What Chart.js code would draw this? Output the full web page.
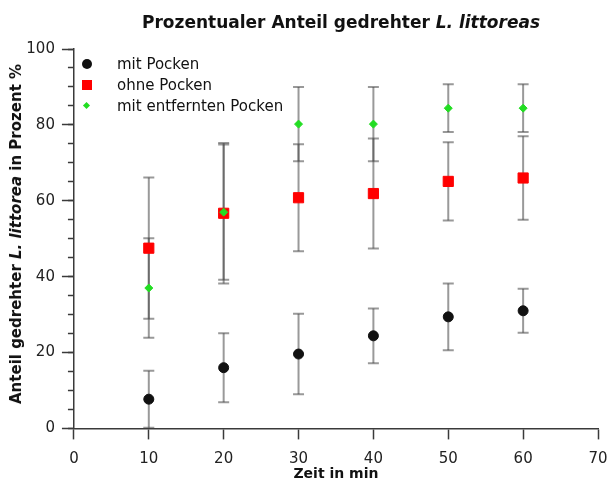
<!DOCTYPE html>
<html>
<head>
<meta charset="utf-8">
<script src="https://cdn.jsdelivr.net/npm/chart.js@4/dist/chart.umd.min.js"></script>
<style>
  body { margin: 0; background: #fff; font-family: "DejaVu Sans", sans-serif; color: #111; }
  #wrap { position: relative; width: 607px; height: 483px; }
  #title { position: absolute; left: 341px; top: 12px; transform: translateX(-50%);
           font-weight: bold; font-size: 17px; white-space: nowrap; }
  #ytitle { position: absolute; left: 16px; top: 234px; transform: translate(-50%, -50%) rotate(-90deg);
            font-weight: bold; font-size: 15px; white-space: nowrap; }
  .row { position: absolute; left: 0; height: 20px; line-height: 20px; font-size: 15px; white-space: nowrap; }
  .row span.txt { position: absolute; left: 117px; top: 0; }
  .mk { position: absolute; }
</style>
</head>
<body>
<div id="wrap">
  <canvas id="chart"></canvas>
  <div id="title">Prozentualer Anteil gedrehter <i>L. littoreas</i></div>
  <div id="ytitle">Anteil gedrehter <i>L. littorea</i> in Prozent %</div>
  <div id="legend"></div>
</div>
<script>
// Zeitpunkte (min)
let zeit = [10, 20, 30, 40, 50, 60];

// Anteil gedrehter Schnecken in %, mit Standardabweichung
let mitPocken = [7.7, 16.0, 19.6, 24.4, 29.4, 31.0];
let mitPockenFehler = [7.5, 9.1, 10.6, 7.2, 8.8, 5.8];
let ohnePocken = [47.5, 56.7, 60.8, 61.9, 65.1, 66.0];
let ohnePockenFehler = [18.6, 18.5, 14.1, 14.5, 10.3, 11.0];
let entferntePocken = [37.0, 57.0, 80.2, 80.2, 84.4, 84.4];
let entferntePockenFehler = [13.1, 17.8, 9.8, 9.8, 6.3, 6.3];

let legendLabels = ["mit Pocken", "ohne Pocken", "mit entfernten Pocken"];
let xTitle = "Zeit in min";

let errColor = "rgba(70, 70, 70, 0.55)";
let axisColor = "#3a3a3a";

function points(values) {
  return zeit.map((x, i) => ({ x: x, y: values[i] }));
}

// each bar = low point, high point, then a gap so the line breaks
function errorBars(values, errors) {
  let out = [];
  for (let i = 0; i < zeit.length; i++) {
    out.push({ x: zeit[i], y: values[i] - errors[i] });
    out.push({ x: zeit[i], y: values[i] + errors[i] });
    out.push({ x: zeit[i], y: null });
  }
  return out;
}

function errorDataset(values, errors) {
  return {
    data: errorBars(values, errors),
    showLine: true,
    spanGaps: false,
    borderColor: errColor,
    borderWidth: 2,
    pointStyle: "line",
    pointRadius: 5.5,
    pointBorderColor: errColor,
    pointBorderWidth: 2,
    yAxisID: "y",
    order: 5,
  };
}

let datasets = [
  {
    label: legendLabels[2],
    data: points(entferntePocken),
    pointStyle: "rectRot",
    pointRadius: 4,
    backgroundColor: "#22dd22",
    borderColor: "#22dd22",
    borderWidth: 1,
    yAxisID: "y",
    order: 0,
  },
  {
    label: legendLabels[1],
    data: points(ohnePocken),
    pointStyle: "rect",
    pointRadius: 7.2,
    backgroundColor: "#ff0000",
    borderColor: "#ff0000",
    borderWidth: 1,
    yAxisID: "y",
    order: 1,
  },
  {
    label: legendLabels[0],
    data: points(mitPocken),
    pointStyle: "circle",
    pointRadius: 5,
    backgroundColor: "#111111",
    borderColor: "#111111",
    borderWidth: 1,
    yAxisID: "y",
    order: 2,
  },
  errorDataset(mitPocken, mitPockenFehler),
  errorDataset(ohnePocken, ohnePockenFehler),
  errorDataset(entferntePocken, entferntePockenFehler),
];

// legend overlay inside the plot
let legendMarks = [
  "left:82px;top:5px;width:10px;height:10px;border-radius:50%;background:#111;",
  "left:82px;top:5px;width:10px;height:10px;background:#ff0000;",
  "left:84px;top:7.5px;width:5px;height:5px;background:#22dd22;transform:rotate(45deg);",
];
let legendTops = [53.5, 74.5, 95.5];
let legendDiv = document.getElementById("legend");
for (let i = 0; i < legendLabels.length; i++) {
  let row = document.createElement("div");
  row.className = "row";
  row.style.top = legendTops[i] + "px";
  row.innerHTML = '<span class="mk" style="' + legendMarks[i] + '"></span><span class="txt"></span>';
  row.querySelector(".txt").innerText = legendLabels[i];
  legendDiv.appendChild(row);
}

let tickFont = { family: "DejaVu Sans", size: 15 };

new Chart(document.getElementById("chart"), {
  type: "scatter",
  data: { datasets: datasets },
  options: {
    responsive: true,
    maintainAspectRatio: false,
    animation: false,
    layout: { autoPadding: false, padding: { left: 19.3, top: 49, right: 9, bottom: 0 } },
    plugins: {
      legend: { display: false },
      tooltip: { enabled: false },
    },
    scales: {
      x: {
        type: "linear",
        min: 0,
        max: 70,
        ticks: { stepSize: 10, font: tickFont, color: "#222", padding: 10.4 },
        grid: { drawOnChartArea: false, tickLength: 11, tickColor: axisColor, tickWidth: 1.5 },
        border: { color: axisColor, width: 1.5 },
        title: {
          display: true,
          text: xTitle,
          font: { family: "DejaVu Sans", size: 14, weight: "bold" },
          color: "#111",
          padding: { top: -12, bottom: 0 },
        },
        afterFit: (scale) => { scale.paddingRight = 0; },
      },
      y: {
        position: "left",
        weight: 1,
        min: 0,
        max: 100,
        ticks: { stepSize: 20, font: tickFont, color: "#222", padding: 7 },
        grid: { drawOnChartArea: false, tickLength: 12, tickColor: axisColor, tickWidth: 1.5 },
        border: { color: axisColor, width: 1.5 },
      },
      y2: {
        position: "left",
        weight: 0,
        min: 0,
        max: 100,
        ticks: { stepSize: 5, display: false },
        grid: { drawOnChartArea: false, tickLength: 6, tickColor: axisColor, tickWidth: 1.5 },
        border: { display: false },
        afterFit: (scale) => { scale.width = 0; },
      },
    },
  },
});
</script>
</body>
</html>
